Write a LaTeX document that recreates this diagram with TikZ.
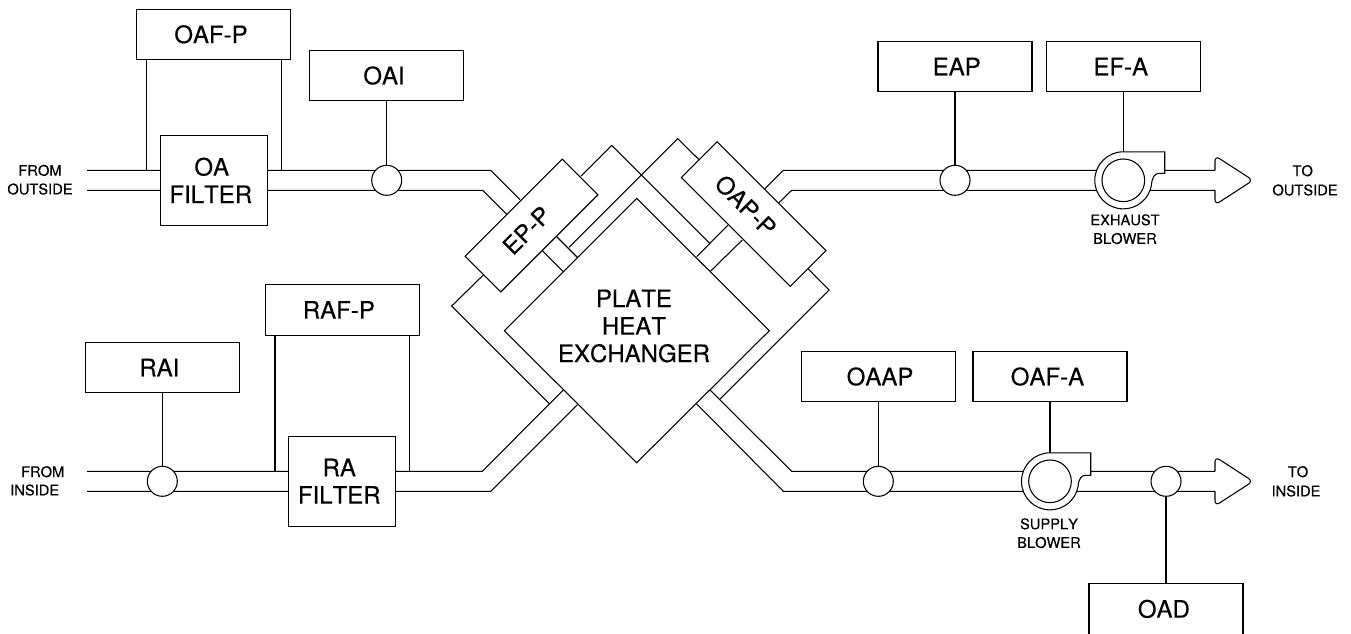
\documentclass[tikz,border=0pt]{standalone}
\usepackage{fontspec}
\setmainfont[FakeBold=0.3,Kerning=Off]{TeX Gyre Heros}
\newcommand{\nudge}[2]{\hbox{\kern#1pt #2\kern-#1pt}}
\tikzset{
  line/.style={line width=0.8pt,black},
  box/.style={line,draw,fill=white,inner sep=0pt,minimum width=115.5pt,minimum height=37.9pt,font=\fontsize{18}{20.6}\selectfont},
  filterbox/.style={box,minimum width=80.6pt,minimum height=67.5pt,align=center},
  sensor/.style={line,draw,fill=white,circle,inner sep=0pt,minimum size=22.5pt},
  biglabel/.style={inner sep=0pt,align=center,font=\fontsize{18}{20.6}\selectfont},
  smalllabel/.style={inner sep=0pt,align=center,font=\fontsize{11}{14}\selectfont},
}
\begin{document}
\begin{tikzpicture}[x=0.75pt,y=-0.75pt]
\useasboundingbox (0,0) rectangle (1351,633);
\clip (0,0) rectangle (1351,633);

% duct centre-line anchors
\coordinate (v1) at (146.3,170.3);
\coordinate (v2) at (281.7,170.3);
\coordinate (v3) at (275,471.3);
\coordinate (v4) at (409.7,471.3);

% ducts
\draw[line] (87,170.3) -- (490.7,170.3) -- (520,199.6);
\draw[line] (87,190.3) -- (482.7,190.3) -- (506.7,214.3);
\draw[line] (87,471.3) -- (482.3,471.3) -- (563.3,390);
\draw[line] (87,491.3) -- (490.7,491.3) -- (577.3,404.7);
\draw[line] (710,390) -- (791.7,471.3) -- (1215,471.3);
\draw[line] (696.7,404) -- (783.3,491.3) -- (1215,491.3);
\draw[line] (765,188.7) -- (783.3,170.3) -- (1215,170.3);
\draw[line] (779,202.7) -- (791.7,190.3) -- (1215,190.3);

% exchanger housing
\draw[line] (581,176) -- (611.7,145.3) -- (710,243.7);
\draw[line] (699.3,160) -- (677.7,138.7) -- (569,247.3);
\draw[line] (483.3,275) -- (451.7,306) -- (549.7,404);
\draw[line] (808.3,269) -- (829,290) -- (720,399);
\draw[line] (556.7,236.7) -- (577.7,257.7);
\draw[line] (542.7,251) -- (563.3,271.7);
\draw[line] (696.7,256.7) -- (727.7,225.3);
\draw[line] (710.7,271) -- (742.3,240);

% arrow heads
\draw[line,rounded corners=4pt] (1215,170.3) -- (1215,155.7) -- (1253,180.3) -- (1215,204.9) -- (1215,190.3);
\draw[line,rounded corners=4pt] (1215,471.3) -- (1215,456.7) -- (1253,481.3) -- (1215,505.9) -- (1215,491.3);

% exchanger core
\draw[line,fill=white] (636.7,198.3) -- (769.3,330.7) -- (636.7,462.7) -- (504.3,330.7) -- cycle;
\node[biglabel] (core) at (634,326) {PLATE\\HEAT\\EXCHANGER};

% pressure boxes on the diagonals
\node[box,rotate=45,minimum width=102.9pt] (EPP) at (531.5,225.5) {};
\node[box,rotate=-45] (OAPP) at (753.7,214) {};
\node[biglabel,rotate=45] (EPPt) at (526.7,230.3) {EP-P};
\node[biglabel,rotate=-45] (OAPPt) at (745.7,205.5) {OAP-P};

% instrument boxes
\node[box] (OAFP) at (213.8,34.3) {\nudge{-2.1}{OAF-P}};
\node[box] (OAI) at (386.7,75.5) {\nudge{-2.0}{OAI}};
\node[box] (EAP) at (955,66.5) {\nudge{1.3}{EAP}};
\node[box] (EFA) at (1123.3,66.5) {\nudge{-1.9}{EF-A}};
\node[box] (RAFP) at (342.2,309.8) {\nudge{-2.5}{RAF-P}};
\node[box] (RAI) at (162.3,367.5) {\nudge{-2.2}{RAI}};
\node[box] (OAAP) at (878.3,376.5) {\nudge{1.3}{OAAP}};
\node[box] (OAFA) at (1050,376.5) {\nudge{-1.9}{OAF-A}};
\node[box] (OAD) at (1166,608.9) {\nudge{-1.6}{OAD}};

% filters
\node[filterbox] (OAF) at (214,180.3) {\nudge{-1.7}{OA}\\\nudge{-2.4}{FILTER}};
\node[filterbox] (RAF) at (342.2,481.2) {\nudge{-2.2}{RA}\\\nudge{-2.2}{FILTER}};

% sensors
\node[sensor] (OAIc) at (386.7,180.3) {};
\node[sensor] (EAPc) at (955,180.3) {};
\node[sensor] (RAIc) at (162.3,481.3) {};
\node[sensor] (OAAPc) at (878.3,481.3) {};
\node[sensor] (OADc) at (1166,481.3) {};

% blowers
\coordinate (EFc) at (1123.3,180.3);
\coordinate (SFc) at (1050,481.3);
\draw[line,fill=white] (1123.3,151.8) arc[start angle=90,end angle=349,radius=21.4pt]
  .. controls (1152,177) and (1155,173.3) .. (1159,173.3) -- (1164.7,173.3) -- (1164.7,151.8) -- cycle;
\node[line,draw,circle,inner sep=0pt,minimum size=32pt] (EFin) at (EFc) {};
\draw[line,fill=white] (1050,452.8) arc[start angle=90,end angle=349,radius=21.4pt]
  .. controls (1078.7,478) and (1081.7,475.3) .. (1085.7,475.3) -- (1090.7,475.3) -- (1090.7,452.8) -- cycle;
\node[line,draw,circle,inner sep=0pt,minimum size=32pt] (SFin) at (SFc) {};

% connectors
\draw[line] (OAI.south) -- (OAIc.north);
\draw[line] (EAP.south) -- (EAPc.north);
\draw[line] (RAI.south) -- (RAIc.north);
\draw[line] (OAAP.south) -- (OAAPc.north);
\draw[line] (OADc.south) -- (OAD.north);
\draw[line] (EFA.south) -- (EFc |- 0,151.8);
\draw[line] (OAFA.south) -- (SFc |- 0,452.8);
\draw[line] (v1) -- (v1 |- OAFP.south);
\draw[line] (v2) -- (v2 |- OAFP.south);
\draw[line] (v3) -- (v3 |- RAFP.south);
\draw[line] (v4) -- (v4 |- RAFP.south);

% flow labels
\node[smalllabel] (fo) at (40,179.7) {FROM\\OUTSIDE};
\node[smalllabel] (fi1) at (42.7,471.7) {FROM};
\node[smalllabel] (fi2) at (34.7,490) {INSIDE};
\node[smalllabel] (too1) at (1302.7,170.7) {TO};
\node[smalllabel] (too2) at (1305,190) {OUTSIDE};
\node[smalllabel] (toi1) at (1298,471.7) {TO};
\node[smalllabel] (toi2) at (1296,491) {INSIDE};
\node[smalllabel] (eb) at (1125,229.2) {EXHAUST\\BLOWER};
\node[smalllabel] (sb) at (1049,533.2) {SUPPLY\\BLOWER};
\end{tikzpicture}
\end{document}
